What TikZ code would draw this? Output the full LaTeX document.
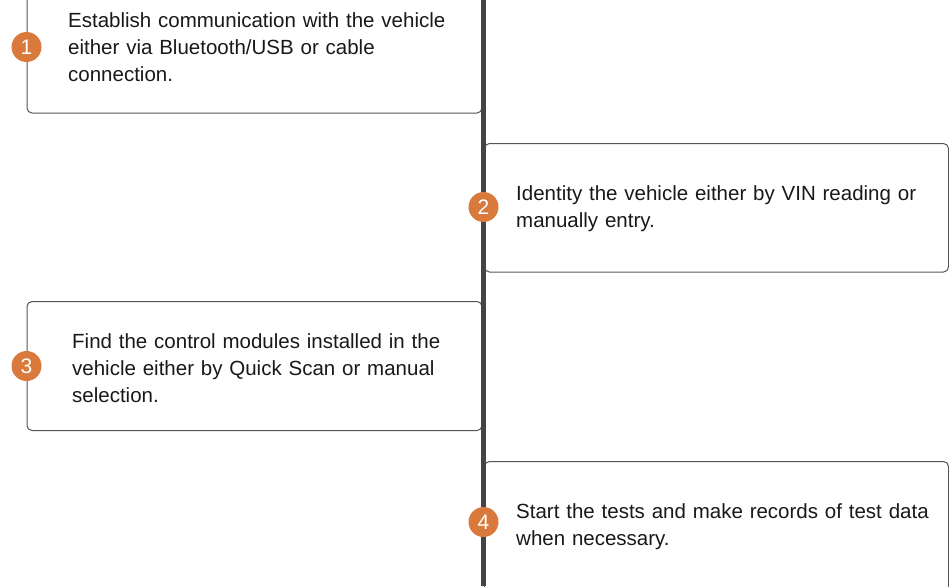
\documentclass[tikz,border=0pt]{standalone}
\usepackage{fontspec}
\setmainfont{Liberation Sans}
\definecolor{steporange}{HTML}{D97A3C}
\definecolor{axisgray}{HTML}{444444}
\definecolor{framegray}{HTML}{555555}
\tikzset{
  stepbox/.style={draw=framegray, line width=1pt, rounded corners=5pt, fill=white, inner sep=0pt, anchor=north west},
  stepnum/.style={circle, fill=steporange, text=white, minimum size=30pt, inner sep=0pt, font=\fontsize{21}{21}\selectfont},
  steptext/.style={anchor=base west, inner sep=0pt, text width=440pt, align=left, text=black!90, font=\fontsize{20.5}{27}\selectfont}
}
\begin{document}
\begin{tikzpicture}[x=1pt,y=-1pt,line join=round,line cap=round]
	\useasboundingbox (0,0) rectangle (949,586);
	\clip (0,0) rectangle (949,586);
	\coordinate (T) at (483.5,0);
	\coordinate (U) at (483.5,586);
	\node[stepbox, minimum width=455pt, minimum height=131pt] (box1) at (26.5,-18.5) {};
	\node[stepbox, minimum width=464pt, minimum height=128.5pt] (box2) at (484,143) {};
	\node[stepbox, minimum width=455pt, minimum height=129pt] (box3) at (26.5,301) {};
	\node[stepbox, minimum width=464pt, minimum height=140pt] (box4) at (484,461) {};
	\draw[axisgray, line width=5pt, line cap=butt] (T) -- (U);
	\node[stepnum] (n1) at (26.5,47) {1};
	\node[stepnum] (n2) at (483.5,207) {2};
	\node[stepnum] (n3) at (26.5,366) {3};
	\node[stepnum] (n4) at (483.5,522) {4};
	\node[steptext] (t1) at (68,27.3) {Establish communication with the vehicle\\either via Bluetooth/USB or cable\\connection.};
	\node[steptext] (t2) at (516,200) {Identity the vehicle either by VIN reading or\\manually entry.};
	\node[steptext] (t3) at (72,348.3) {Find the control modules installed in the\\vehicle either by Quick Scan or manual\\selection.};
	\node[steptext] (t4) at (516,518.3) {Start the tests and make records of test data\\when necessary.};
\end{tikzpicture}
\end{document}
